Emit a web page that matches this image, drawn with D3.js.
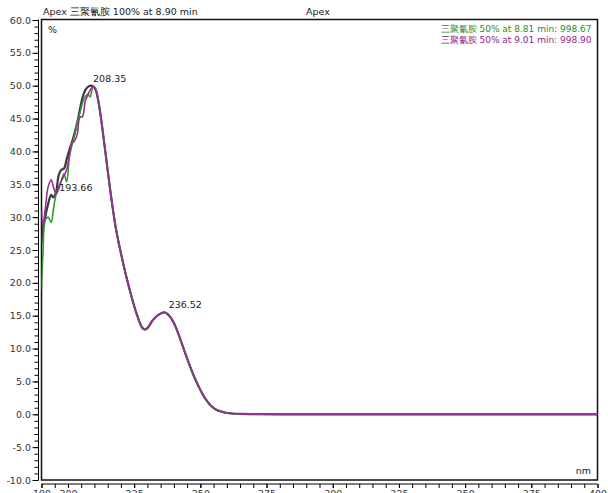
<!DOCTYPE html>
<html>
<head>
<meta charset="utf-8">
<script src="https://cdn.jsdelivr.net/npm/d3@7"></script>
<style>
  body { margin: 0; background: #fff; }
  svg text { font-family: "DejaVu Sans", Verdana, sans-serif; font-size: 9.5px; }
</style>
</head>
<body>
<div id="chart"></div>
<script>
// wavelengths (nm) where the three spectra differ
const nmHead = [190, 190.5, 191.5, 192.5, 193.66, 194.5, 195.5, 196.5, 197.5, 198.5, 199.5,
                200.5, 201.5, 202.5, 203.5, 204.5, 205.5, 206.5, 207.5, 208.35, 209.5, 210.5, 211.5];
const headApex   = [26.0, 28.0, 30.2, 32.0, 33.4, 33.0, 33.8, 36.4, 37.2, 37.4, 38.8,
                    40.2, 41.4, 42.8, 44.4, 46.4, 48.2, 49.3, 49.8, 50.0, 49.9, 49.4, 47.6];
const headGreen  = [19.0, 24.0, 29.6, 30.0, 29.2, 31.2, 33.4, 34.2, 35.6, 36.6, 35.4,
                    39.0, 41.0, 42.4, 44.4, 45.8, 47.4, 48.3, 48.7, 48.3, 49.8, 49.3, 47.6];
const headPurple = [31.0, 28.6, 31.5, 34.6, 35.7, 34.6, 33.6, 34.6, 35.5, 36.3, 37.2,
                    39.4, 41.2, 41.6, 42.6, 45.2, 45.3, 47.6, 48.6, 49.3, 49.9, 49.2, 47.5];

// after ~212 nm the three traces overlap
const nmTail = [212.5, 214, 216, 218, 220, 222, 224, 226, 228, 229, 230, 232, 234, 236.52, 238,
                240, 242, 244, 246, 248, 250, 252, 254, 256, 258, 260, 265, 270, 280, 300, 350, 400];
const tail   = [45.0, 40.3, 34.0, 28.5, 24.5, 21.0, 17.9, 15.2, 13.2, 12.9, 13.1, 14.3, 15.1, 15.5, 15.1,
                13.9, 11.9, 9.6, 7.4, 5.4, 3.7, 2.3, 1.3, 0.7, 0.4, 0.2, 0.05, 0.02, 0, 0, 0, 0];

const peaks = [{nm: 193.66, v: 33.4, dx: 8}, {nm: 208.35, v: 50.0, dx: 3}, {nm: 236.52, v: 15.5, dx: 4}];

const xLabels = [190, 200, 225, 250, 275, 300, 325, 350, 375, 400];
const yLabels = d3.range(-10, 61, 5);

const titleText = "Apex 三聚氰胺 100%  at 8.90 min";
const legendItems = [
  {text: "三聚氰胺 50% at 8.81 min: 998.67", color: "#2a8c2a"},
  {text: "三聚氰胺 50% at 9.01 min: 998.90", color: "#8c2a8c"}
];

const width = 608, height = 493;
const plot = {left: 41.5, right: 597.5, top: 19.5, bottom: 480};

const svg = d3.select("#chart").append("svg")
    .attr("width", width)
    .attr("height", height);

const x = d3.scaleLinear().domain([190, 400]).range([plot.left, plot.right]);
const y = d3.scaleLinear().domain([-10, 60]).range([plot.bottom, 20]);

const nmAll = nmHead.concat(nmTail);
const series = [
  {vals: headApex.concat(tail),   color: "#3a3a3a", w: 2.2},
  {vals: headGreen.concat(tail),  color: "#2f9a2f", w: 1.6},
  {vals: headPurple.concat(tail), color: "#962f96", w: 1.6}
];

// y axis, sitting just left of the frame
const yAxisX = 38.5;
svg.append("g")
   .attr("transform", `translate(${yAxisX},0)`)
   .call(d3.axisLeft(y).tickValues(d3.range(-10, 61, 1)).tickSize(4).tickFormat(""))
   .call(g => g.select(".domain").attr("d", `M0,${plot.top}V${plot.bottom}`));
svg.append("g")
   .attr("transform", `translate(${yAxisX},0)`)
   .call(d3.axisLeft(y).tickValues(yLabels).tickSize(6).tickPadding(1.5).tickFormat(d => d.toFixed(1)))
   .call(g => g.select(".domain").remove())
   .selectAll("text").attr("fill", "#333");

// x axis, just under the frame (labels run off the bottom, as in the original)
const xAxisY = 484;
svg.append("g")
   .attr("transform", `translate(0,${xAxisY})`)
   .call(d3.axisBottom(x).tickValues(d3.range(190, 401, 5)).tickSize(4).tickFormat(""))
   .call(g => g.select(".domain").attr("d", `M${plot.left},0H${plot.right}`));
svg.append("g")
   .attr("transform", `translate(0,${xAxisY})`)
   .call(d3.axisBottom(x).tickValues(xLabels).tickSize(4).tickPadding(2))
   .call(g => g.select(".domain").remove())
   .selectAll("text").attr("fill", "#333");

// frame
svg.append("rect")
   .attr("x", plot.left).attr("y", plot.top)
   .attr("width", plot.right - plot.left).attr("height", plot.bottom - plot.top)
   .attr("fill", "none").attr("stroke", "#111").attr("stroke-width", 1.5);

svg.append("clipPath").attr("id", "clip")
   .append("rect")
   .attr("x", plot.left).attr("y", plot.top)
   .attr("width", plot.right - plot.left).attr("height", plot.bottom - plot.top);

const line = d3.line()
    .x((d, i) => x(nmAll[i]))
    .y(d => y(d))
    .curve(d3.curveCatmullRom.alpha(0.5));

svg.append("g").attr("clip-path", "url(#clip)")
   .selectAll("path")
   .data(series)
   .enter()
   .append("path")
   .attr("d", d => line(d.vals))
   .attr("fill", "none")
   .attr("stroke", d => d.color)
   .attr("stroke-width", d => d.w)
   .attr("stroke-linejoin", "round");

// peak labels
svg.selectAll(".peak")
   .data(peaks)
   .enter()
   .append("text")
   .attr("class", "peak")
   .attr("x", d => x(d.nm) + d.dx)
   .attr("y", d => y(d.v) - 4)
   .attr("fill", "#222")
   .text(d => d.nm.toFixed(2));

// header and legend
svg.append("text").attr("x", 43).attr("y", 15).attr("fill", "#222").text(titleText);
svg.append("text").attr("x", 318).attr("y", 15).attr("text-anchor", "middle").attr("fill", "#222").text("Apex");

svg.selectAll(".legend")
   .data(legendItems)
   .enter()
   .append("text")
   .attr("class", "legend")
   .attr("x", 591.5)
   .attr("y", (d, i) => 32 + i * 10.5)
   .attr("text-anchor", "end")
   .attr("fill", d => d.color)
   .style("font-size", "9px")
   .text(d => d.text);

svg.append("text").attr("x", 48).attr("y", 33).attr("fill", "#222").text("%");
svg.append("text").attr("x", 591).attr("y", 474).attr("text-anchor", "end").attr("fill", "#222").text("nm");
</script>
</body>
</html>
